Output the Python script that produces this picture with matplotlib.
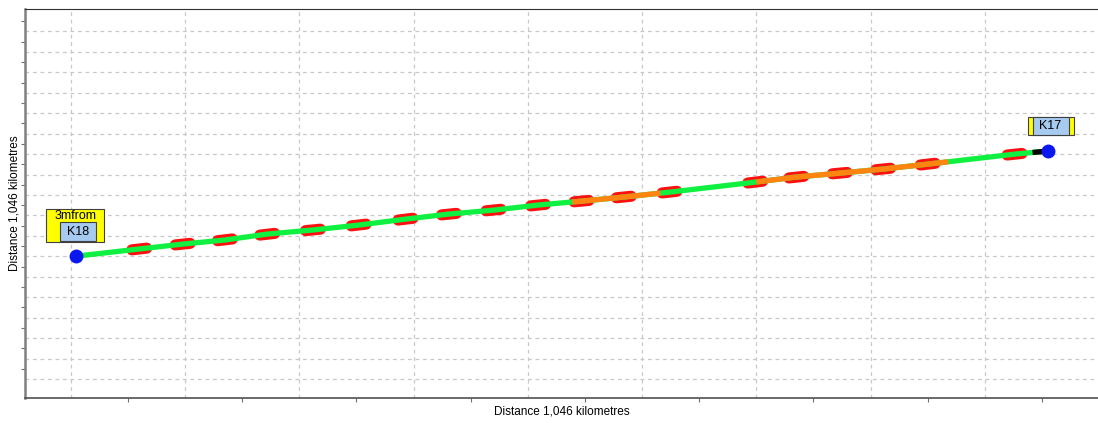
import numpy as np
import matplotlib
matplotlib.use('Agg')
import matplotlib.pyplot as plt
from matplotlib.patches import Rectangle
from matplotlib.transforms import ScaledTranslation

# Профиль маршрута (ось X: деления сетки, ось Y: деления сетки)
route_x = [0.05, 0.60, 0.98, 1.35, 1.72, 2.12, 2.52, 2.93, 3.31, 3.70, 4.09,
           4.47, 4.84, 5.24, 5.99, 6.35, 6.73, 7.11, 7.50, 8.26, 8.55]
route_y = [7.01, 7.36, 7.60, 7.80, 8.09, 8.29, 8.53, 8.82, 9.07, 9.26, 9.51,
           9.70, 9.90, 10.14, 10.63, 10.88, 11.07, 11.27, 11.51, 12.00, 12.15]

# Участки другого цвета
orange_ranges = [(4.39, 5.16), (6.00, 7.68)]
black_range = (8.44, 8.55)

# Красные отметки вдоль маршрута
blob_x = [0.60, 0.98, 1.35, 1.72, 2.12, 2.52, 2.93, 3.31, 3.70, 4.09,
          4.47, 4.84, 5.24, 5.99, 6.35, 6.73, 7.11, 7.50, 8.26]

start_label = 'K18'
start_note = '3mfrom'
end_label = 'K17'
axis_label = 'Distance 1,046 kilometres'

plt.rcParams['font.family'] = ['Liberation Sans', 'DejaVu Sans']

fig = plt.figure(figsize=(10.98, 4.23), dpi=100)
ax = fig.add_axes([25 / 1098, 25 / 423, 1073 / 1098, 389 / 423])
ax.set_xlim(-0.40, 8.99)
ax.set_ylim(0.07, 19.1)


def part(a, b):
    xs = [a] + [x for x in route_x if a < x < b] + [b]
    return xs, np.interp(xs, route_x, route_y)


# Красные отметки (под линией)
for bx in blob_x:
    xs = [bx - 0.065, bx + 0.065]
    ax.plot(xs, np.interp(xs, route_x, route_y), color='#ff1010', lw=8,
            solid_capstyle='round', zorder=3)

# Линия маршрута
ax.plot(route_x, route_y, color='#10f040', lw=3.8, solid_capstyle='butt', zorder=4)
for a, b in orange_ranges:
    xs, ys = part(a, b)
    ax.plot(xs, ys, color='#ff8410', lw=3.8, solid_capstyle='butt', zorder=4)
xs, ys = part(*black_range)
ax.plot(xs, ys, color='black', lw=3.8, zorder=4)

# Конечные точки
ax.plot([route_x[0], route_x[-1]], [route_y[0], route_y[-1]], 'o',
        color='#0a18f0', ms=9, mec='#0a18f0', zorder=6)


def box(x, y, dx, dy, w, h, color):
    tr = fig.dpi_scale_trans + ScaledTranslation(x, y, ax.transData)
    ax.add_patch(Rectangle((dx / 100, dy / 100), w / 100, h / 100, transform=tr,
                           facecolor=color, edgecolor='#404040', lw=0.8,
                           clip_on=False, zorder=7))
    return tr


# Подписи K18
tr = box(route_x[0], route_y[0], -30, 14, 58, 33, '#ffff00')
box(route_x[0], route_y[0], -16, 15, 36, 19, '#a6caf0')
ax.text(-1 / 100, 40 / 100, start_note, transform=tr, ha='center', va='center',
        fontsize=9, zorder=8)
ax.text(2 / 100, 24 / 100, start_label, transform=tr, ha='center', va='center',
        fontsize=9, zorder=8)

# Подписи K17
tr = box(route_x[-1], route_y[-1], -20, 16, 46, 18, '#ffff00')
box(route_x[-1], route_y[-1], -15, 16, 36, 18, '#a6caf0')
ax.text(2 / 100, 25 / 100, end_label, transform=tr, ha='center', va='center',
        fontsize=9, zorder=8)

# Сетка и деления
ax.set_xticks(np.arange(0, 9))
ax.set_yticks(np.arange(1, 19))
ax.set_xticks(np.arange(0.5, 9, 1), minor=True)
ax.set_yticks(np.arange(1.5, 19, 1), minor=True)
ax.tick_params(which='major', length=0, labelbottom=False, labelleft=False)
ax.tick_params(which='minor', length=3, color='#707070', width=0.8)
ax.grid(True, which='major', color='#c8c8c8', ls=(0, (3, 3)), lw=0.9)
ax.set_axisbelow(True)

ax.spines['right'].set_visible(False)
ax.spines['top'].set_color('#303030')
ax.spines['bottom'].set_color('#505050')
ax.spines['bottom'].set_linewidth(1.2)
ax.spines['left'].set_color('#808080')
ax.spines['left'].set_linewidth(1.8)

ax.set_xlabel(axis_label, fontsize=8.5, va='center')
ax.set_ylabel(axis_label, fontsize=8.5, va='center')
ax.xaxis.set_label_coords(0.5, -13 / 389)
ax.yaxis.set_label_coords(-10 / 1073, 0.5)

fig.savefig('out.png', dpi=100)
